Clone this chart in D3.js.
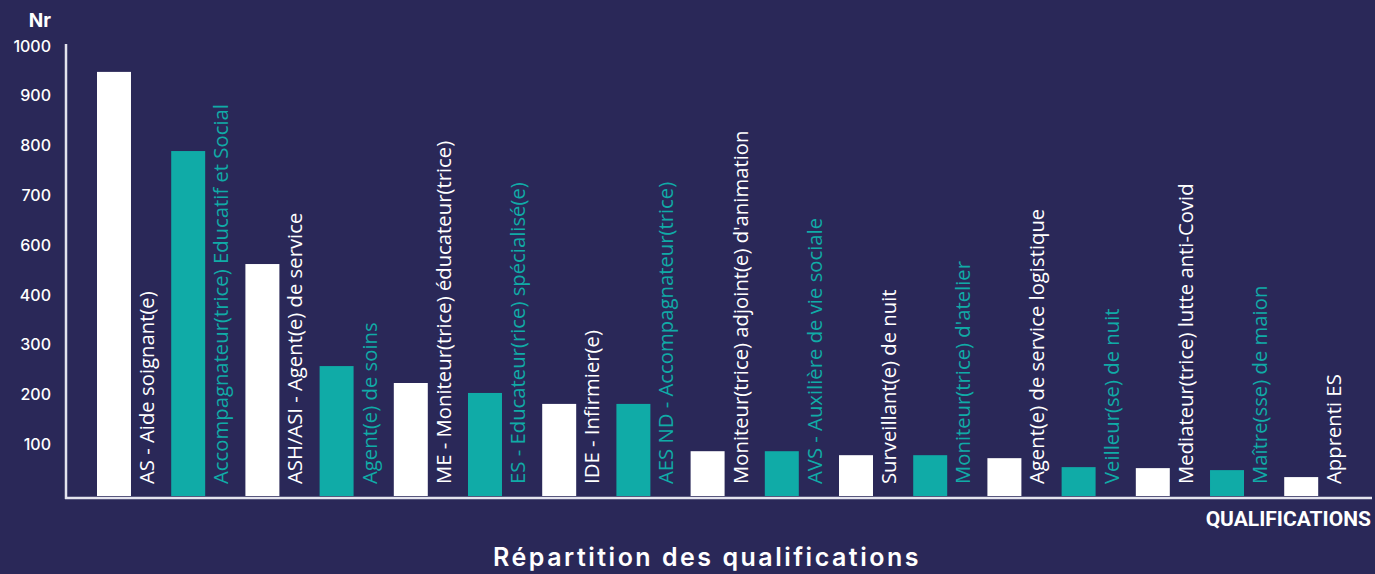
<!DOCTYPE html>
<html>
<head>
<meta charset="utf-8">
<script src="https://cdn.jsdelivr.net/npm/d3@7"></script>
<style>
  body { margin: 0; background: #2a2858; }
  svg { display: block; }
</style>
</head>
<body>
<div id="chart"></div>
<script>
// Data
const categories = [
    "AS - Aide soignant(e)",
    "Accompagnateur(trice) Educatif et Social",
    "ASH/ASI - Agent(e) de service",
    "Agent(e) de soins",
    "ME - Moniteur(trice) éducateur(trice)",
    "ES - Educateur(rice) spécialisé(e)",
    "IDE - Infirmier(e)",
    "AES ND - Accompagnateur(trice)",
    "Moniteur(trice) adjoint(e) d'animation",
    "AVS - Auxilière de vie sociale",
    "Surveillant(e) de nuit",
    "Moniteur(trice) d'atelier",
    "Agent(e) de service logistique",
    "Veilleur(se) de nuit",
    "Mediateur(trice) lutte anti-Covid",
    "Maître(sse) de maion",
    "Apprenti ES"
];
const values = [852, 693, 466, 261, 227, 207, 185, 185, 90, 90, 82, 82, 76, 58, 56, 52, 38];

// y ticks as printed on the original axis (500 is skipped there)
const tickValues = [100, 200, 300, 400, 500, 600, 700, 800, 900];
const tickLabels = ["100", "200", "300", "400", "600", "700", "800", "900", "1000"];

const width = 1375, height = 574;
const white = "#ffffff", teal = "#10aba7";

const svg = d3.select("#chart")
    .append("svg")
    .attr("width", width)
    .attr("height", height);

svg.append("rect")
    .attr("width", width)
    .attr("height", height)
    .attr("fill", "#2a2858");

// Scales
const x = d3.scaleBand()
    .domain(categories)
    .range([97, 1318.2])
    .paddingInner(0.542)
    .paddingOuter(0);

const y = d3.scaleLinear()
    .domain([0, 900])
    .range([496, 48]);

// Y axis tick labels
const yAxis = svg.append("g")
    .attr("transform", "translate(51,0)")
    .call(d3.axisLeft(y).tickValues(tickValues).tickSize(0).tickPadding(0)
        .tickFormat((d, i) => tickLabels[i]));
yAxis.select(".domain").remove();
yAxis.selectAll("text")
    .attr("fill", white)
    .attr("dy", "0.2em")
    .style("font-family", "Inter, sans-serif")
    .style("font-weight", 500)
    .style("font-size", "16px");

// Axis lines
svg.append("line")
    .attr("x1", 66).attr("x2", 66)
    .attr("y1", 44).attr("y2", 499)
    .attr("stroke", "#e4e4ee")
    .attr("stroke-width", 2.5);
svg.append("line")
    .attr("x1", 65).attr("x2", 1372)
    .attr("y1", y(0) + 2).attr("y2", y(0) + 2)
    .attr("stroke", "#e4e4ee")
    .attr("stroke-width", 2.5);

// Bars
svg.selectAll(".bar")
    .data(values)
    .enter()
    .append("rect")
    .attr("class", "bar")
    .attr("x", (d, i) => x(categories[i]))
    .attr("y", d => y(d))
    .attr("width", x.bandwidth())
    .attr("height", d => y(0) - y(d))
    .attr("fill", (d, i) => i % 2 === 0 ? white : teal);

// Rotated category labels next to each bar
svg.selectAll(".cat")
    .data(categories)
    .enter()
    .append("text")
    .attr("class", "cat")
    .attr("transform", d => `translate(${x(d) + x.bandwidth() + 23},484) rotate(-90)`)
    .attr("fill", (d, i) => i % 2 === 0 ? white : teal)
    .style("font-family", "'Open Sans', sans-serif")
    .style("font-size", "20.3px")
    .text(d => d);

// Axis titles
svg.append("text")
    .attr("x", 51).attr("y", 27)
    .attr("text-anchor", "end")
    .attr("fill", white)
    .style("font-family", "Inter, sans-serif")
    .style("font-weight", 700)
    .style("font-size", "19px")
    .text("Nr");

svg.append("text")
    .attr("x", 1371).attr("y", 526)
    .attr("text-anchor", "end")
    .attr("fill", white)
    .style("font-family", "Roboto, sans-serif")
    .style("font-weight", 700)
    .style("font-size", "21px")
    .text("QUALIFICATIONS");

// Chart title
svg.append("text")
    .attr("x", 707).attr("y", 566)
    .attr("text-anchor", "middle")
    .attr("fill", white)
    .style("font-family", "Inter, sans-serif")
    .style("font-weight", 600)
    .style("font-size", "25px")
    .style("letter-spacing", "2.5px")
    .text("Répartition des qualifications");
</script>
</body>
</html>
